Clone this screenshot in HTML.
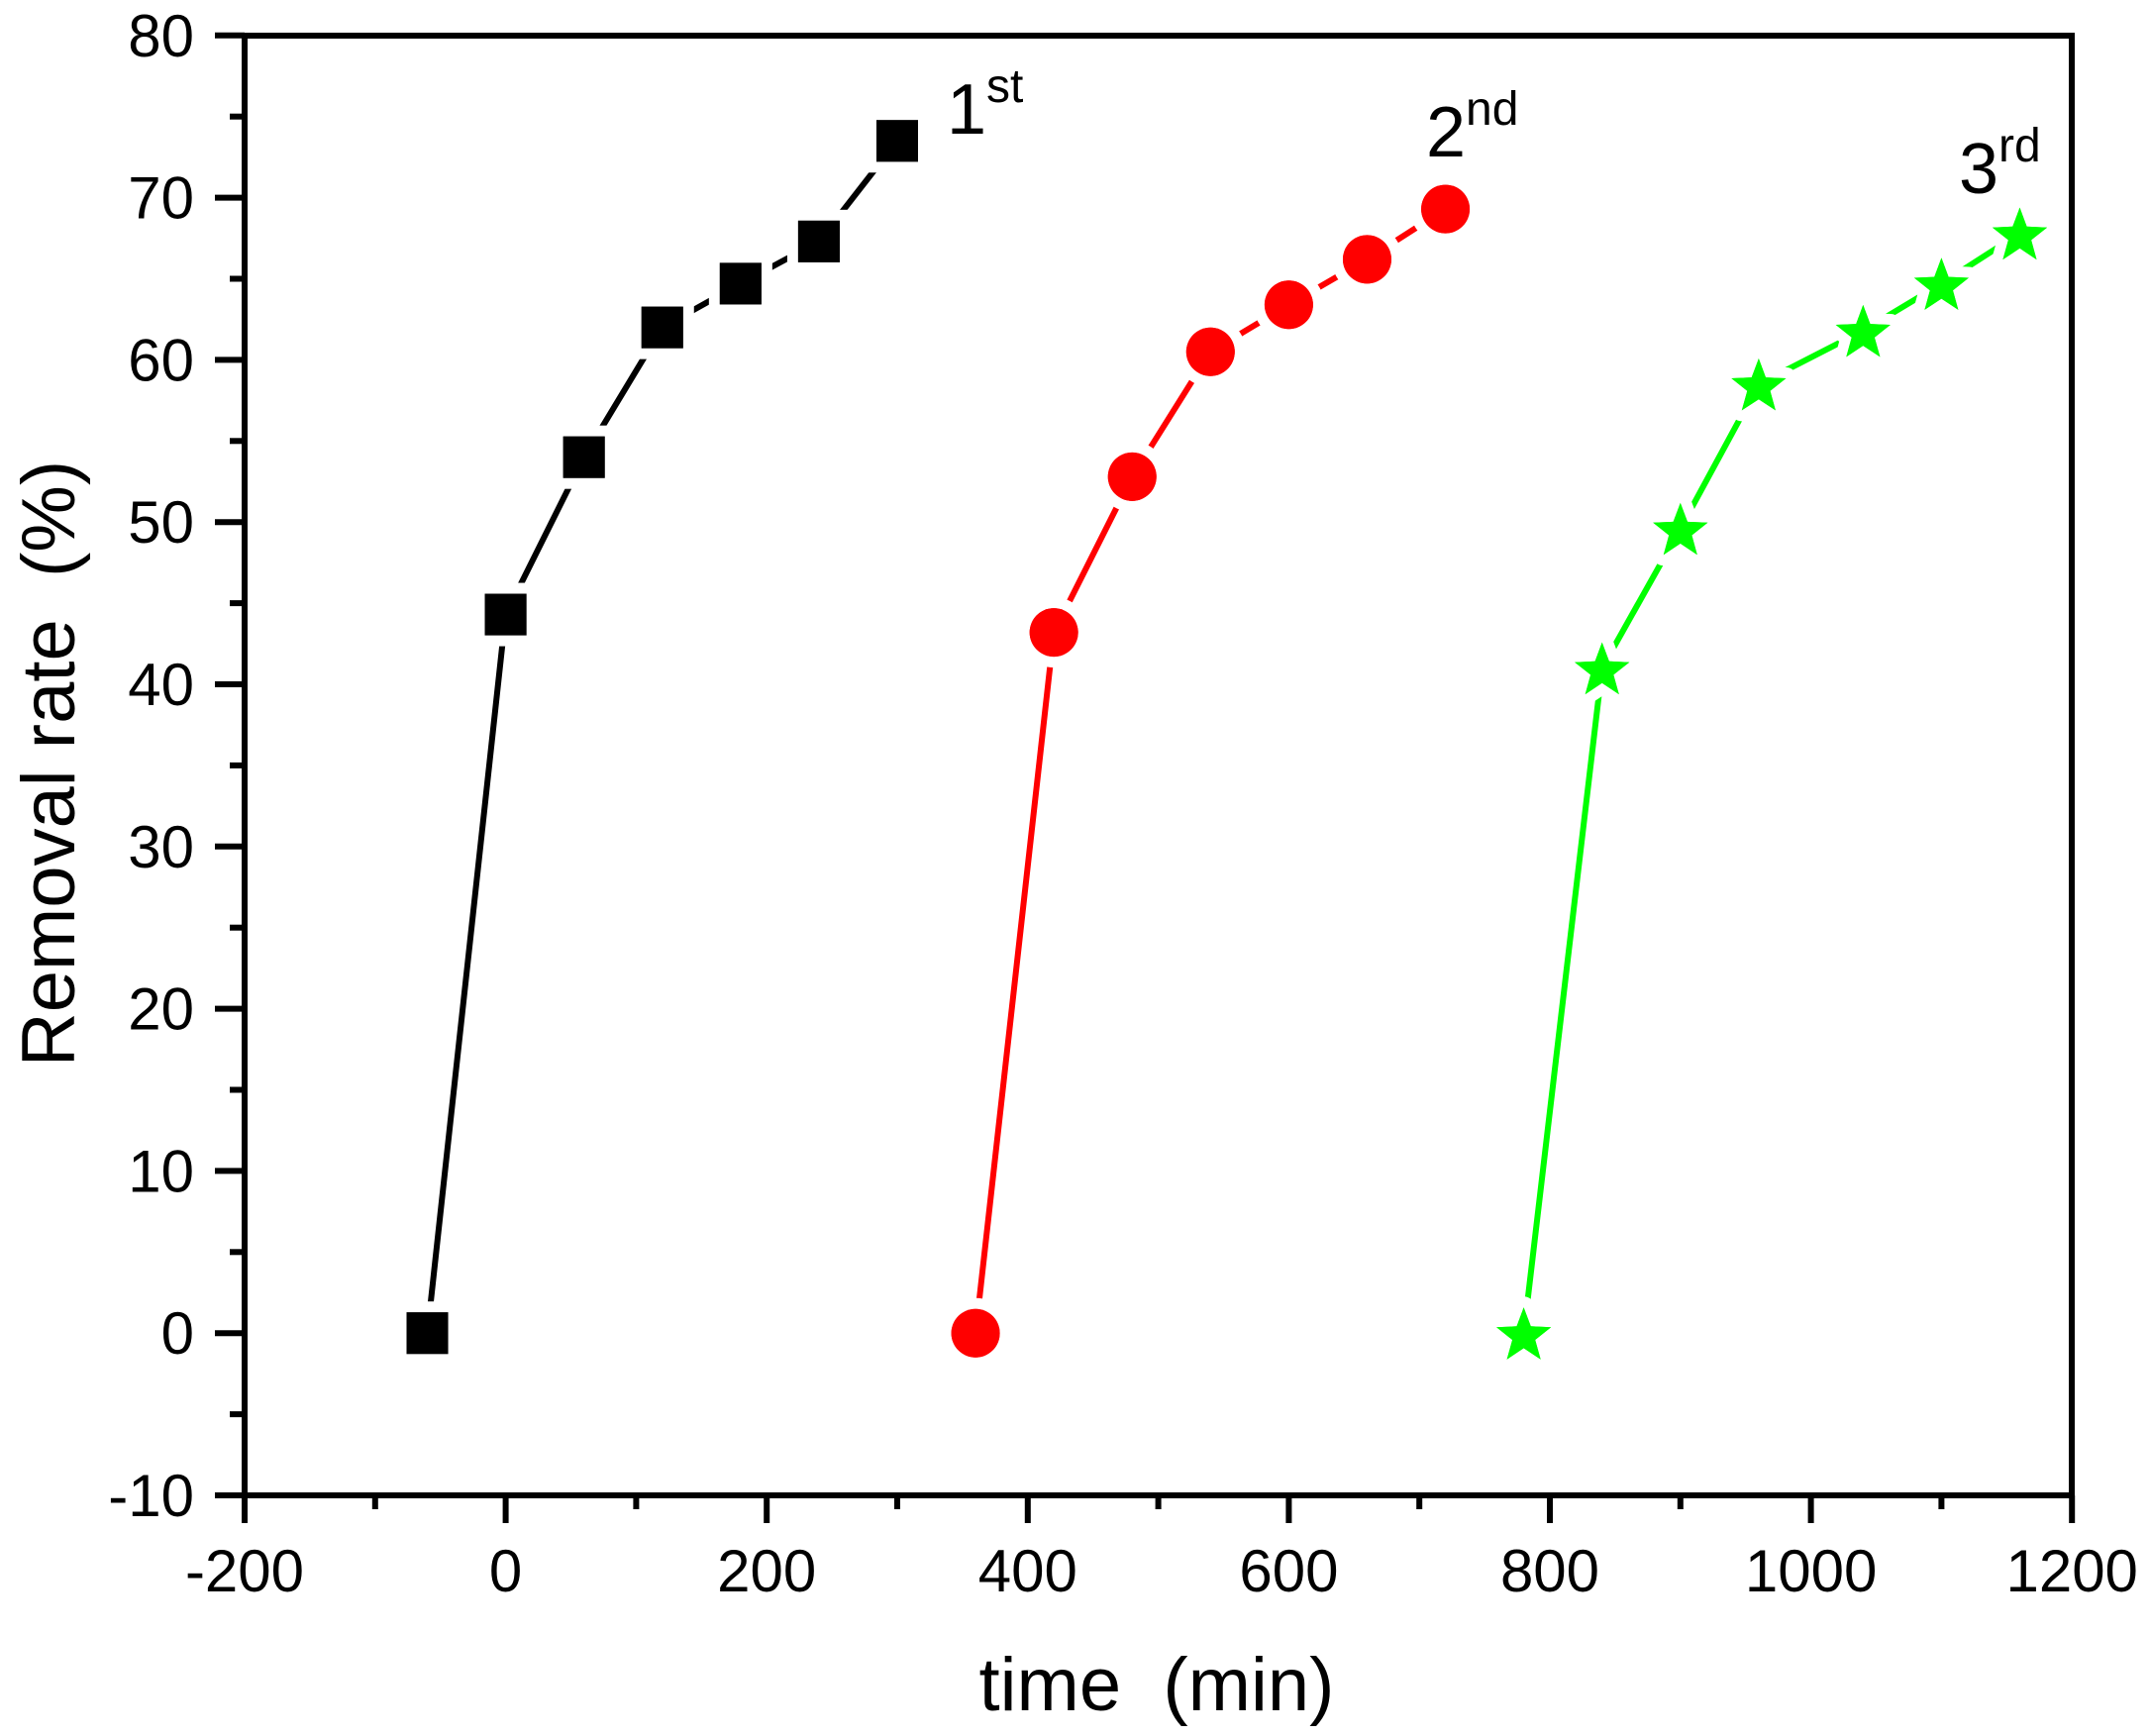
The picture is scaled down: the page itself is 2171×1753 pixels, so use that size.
<!DOCTYPE html>
<html><head><meta charset="utf-8"><style>html,body{margin:0;padding:0;background:#fff}svg{display:block}</style></head>
<body>
<svg xmlns="http://www.w3.org/2000/svg" width="2171" height="1753" viewBox="0 0 2171 1753" font-family="Liberation Sans, Arial, sans-serif">
<rect width="2171" height="1753" fill="#fff"/>
<g id="axes" stroke="#000" stroke-width="6" fill="none">
<rect x="247" y="36" width="1845" height="1474"/>
</g>
<g id="ticks"></g>
<g id="data"></g>
<g font-size="60" fill="#000" id="labels"></g>
<text x="1168" y="1727" font-size="76" text-anchor="middle" xml:space="preserve">time  (min)</text>
<text transform="translate(75,771) rotate(-90)" font-size="76" text-anchor="middle" xml:space="preserve">Removal rate  (%)</text>
<text x="956" y="135" font-size="72">1<tspan font-size="48" dy="-32">st</tspan></text>
<text x="1440" y="158" font-size="72">2<tspan font-size="48" dy="-32">nd</tspan></text>
<text x="1978" y="195" font-size="72">3<tspan font-size="48" dy="-32">rd</tspan></text>
<script>
var NS="http://www.w3.org/2000/svg";
function X(t){return 247+(t+200)*1.318;}
function Y(v){return 1510-(v+10)*16.38;}
function el(p,n,a,txt){var e=document.createElementNS(NS,n);for(var k in a)e.setAttribute(k,a[k]);if(txt!==undefined)e.textContent=txt;document.getElementById(p).appendChild(e);return e;}
for(var t=-200;t<=1200;t+=100){var maj=t%200===0;el("ticks","line",{x1:X(t),y1:1510,x2:X(t),y2:maj?1538:1524,stroke:"#000","stroke-width":6});
if(maj)el("labels","text",{x:X(t),y:1607,"text-anchor":"middle"},String(t));}
for(var v=-10;v<=80;v+=5){var maj=v%10===0;el("ticks","line",{x1:maj?217:232,y1:Y(v),x2:247,y2:Y(v),stroke:"#000","stroke-width":6});
if(maj)el("labels","text",{x:196,y:Y(v)+21,"text-anchor":"end"},String(v));}
var s1=[[-60,0],[0,44.3],[60,54],[120,62],[180,64.7],[240,67.3],[300,73.5]];
var s2=[[360,0],[420,43.2],[480,52.8],[540,60.5],[600,63.4],[660,66.2],[720,69.3]];
var s3=[[780,0],[840,41],[900,49.6],[960,58.5],[1040,61.8],[1100,64.7],[1160,67.8]];
function line(s,c){el("data","polyline",{points:s.map(function(p){return X(p[0])+","+Y(p[1]);}).join(" "),fill:"none",stroke:c,"stroke-width":6,"stroke-linejoin":"round"});}
line(s1,"#000");line(s2,"#ff0000");line(s3,"#00ff00");
var halo={stroke:"#fff","stroke-width":22,"paint-order":"stroke"};
function m(a,b){for(var k in b)a[k]=b[k];return a;}
s1.forEach(function(p){el("data","rect",m({x:X(p[0])-21,y:Y(p[1])-21,width:42,height:42,fill:"#000"},halo));});
s1.forEach(function(p){el("data","rect",{x:X(p[0])-21,y:Y(p[1])-21,width:42,height:42,fill:"#000"});});
s2.forEach(function(p){el("data","circle",m({cx:X(p[0]),cy:Y(p[1]),r:24.5,fill:"#ff0000"},halo));});
s2.forEach(function(p){el("data","circle",{cx:X(p[0]),cy:Y(p[1]),r:24.5,fill:"#ff0000"});});
function star(cx,cy,R){var r=R*0.42,pts=[];for(var i=0;i<10;i++){var a=-Math.PI/2+i*Math.PI/5,rr=i%2?r:R;pts.push((cx+rr*Math.cos(a)).toFixed(1)+","+(cy+rr*Math.sin(a)).toFixed(1));}return pts.join(" ");}
s3.forEach(function(p){el("data","polygon",m({points:star(X(p[0]),Y(p[1])+3,29),fill:"#00ff00","stroke-linejoin":"round"},halo));});
s3.forEach(function(p){el("data","polygon",{points:star(X(p[0]),Y(p[1])+3,29),fill:"#00ff00"});});
</script>
</svg>
</body></html>
